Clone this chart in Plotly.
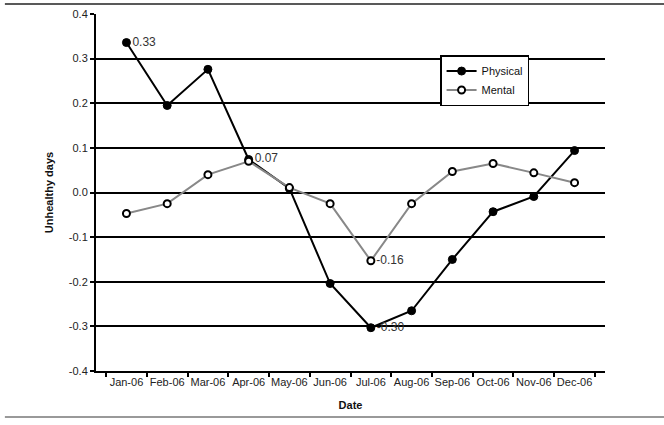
import plotly.graph_objects as go

months = ["Jan-06", "Feb-06", "Mar-06", "Apr-06", "May-06", "Jun-06",
          "Jul-06", "Aug-06", "Sep-06", "Oct-06", "Nov-06", "Dec-06"]
physical = [0.336, 0.195, 0.276, 0.074, 0.009, -0.204,
            -0.303, -0.265, -0.150, -0.043, -0.009, 0.094]
mental = [-0.047, -0.025, 0.040, 0.070, 0.011, -0.025,
          -0.153, -0.025, 0.047, 0.065, 0.044, 0.022]
physical_labels = ["0.33", "", "", "0.07", "", "", "-0.30", "", "", "", "", ""]
mental_labels = ["", "", "", "", "", "", "-0.16", "", "", "", "", ""]
y_ticks = [-0.4, -0.3, -0.2, -0.1, 0.0, 0.1, 0.2, 0.3, 0.4]
y_tick_text = ["-0.4", "-0.3", "-0.2", "-0.1", "0.0", "0.1", "0.2", "0.3", "0.4"]

font = "Liberation Sans, Arial, sans-serif"

fig = go.Figure()
fig.add_trace(go.Scatter(
    x=months, y=physical, name="Physical",
    mode="lines+markers+text", text=physical_labels,
    textposition="middle right", textfont=dict(size=12, color="#333"),
    line=dict(color="black", width=2),
    marker=dict(symbol="circle", size=8, color="black",
                line=dict(color="black", width=1)),
))
fig.add_trace(go.Scatter(
    x=months, y=mental, name="Mental",
    mode="lines+markers+text", text=mental_labels,
    textposition="middle right", textfont=dict(size=12, color="#333"),
    line=dict(color="#888888", width=2),
    marker=dict(symbol="circle", size=7, color="white",
                line=dict(color="black", width=2)),
))

fig.update_layout(
    width=664, height=425,
    margin=dict(l=96, r=59, t=14, b=54, autoexpand=False),
    paper_bgcolor="white", plot_bgcolor="white",
    font=dict(family=font, size=11, color="#222"),
    showlegend=True,
    legend=dict(x=0.676, y=0.885, xanchor="left", yanchor="top",
                bgcolor="white", bordercolor="black", borderwidth=1.5,
                font=dict(size=11, color="#111"), tracegroupgap=2,
                itemwidth=30),
    xaxis=dict(
        type="category", tickson="boundaries", tickangle=0,
        ticks="outside", ticklen=4, tickwidth=2, tickcolor="black",
        showline=True, linecolor="black", linewidth=2,
        showgrid=False, automargin=False,
        title=dict(text="<b>Date</b>", font=dict(size=11, color="#111"), standoff=14),
        tickfont=dict(size=11, color="#222"),
    ),
    yaxis=dict(
        range=[-0.4, 0.4], tickvals=y_ticks, ticktext=y_tick_text,
        ticks="outside", ticklen=4, tickwidth=2, tickcolor="black",
        showline=True, linecolor="black", linewidth=2,
        showgrid=True, gridcolor="black", gridwidth=1.5,
        zeroline=True, zerolinecolor="black", zerolinewidth=1.5,
        automargin=False,
        title=dict(text="<b>Unhealthy days</b>", font=dict(size=11, color="#111"),
                   standoff=13),
        tickfont=dict(size=11, color="#222"),
    ),
    shapes=[
        dict(type="line", xref="paper", yref="paper", x0=-0.179, x1=1.116,
             y0=1.028, y1=1.028, line=dict(color="#222", width=1.5)),
        dict(type="line", xref="paper", yref="paper", x0=-0.179, x1=1.116,
             y0=-0.129, y1=-0.129, line=dict(color="#999", width=2)),
    ],
)

# page body margin would shift the figure by 8px
fig.write_html("out.html", config={"displayModeBar": False},
               post_script="document.body.style.margin='0';")
